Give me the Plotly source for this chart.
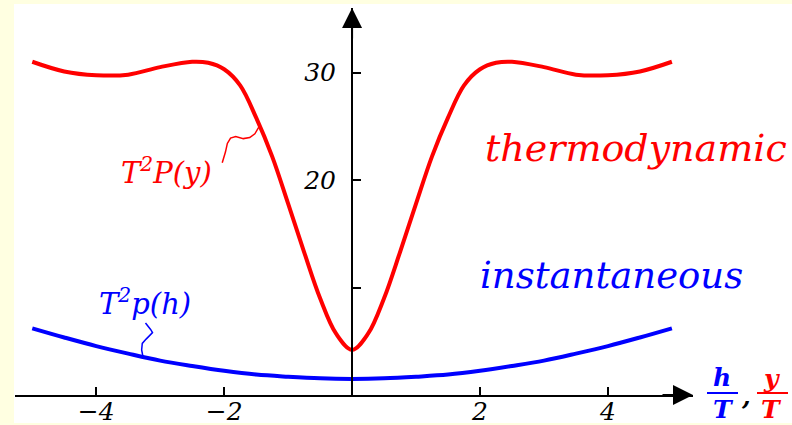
import plotly.graph_objects as go

W, H = 792, 425

# ---------------- data ----------------
red_x = [-5, -4.5, -4, -3.5, -3, -2.5, -2.25, -2, -1.75, -1.5, -1.25, -1, -0.75, -0.5, -0.25,
         0, 0.25, 0.5, 0.75, 1, 1.25, 1.5, 1.75, 2, 2.25, 2.5, 3, 3.5, 4, 4.5, 5]
red_y = [31.0, 30.1, 29.75, 29.8, 30.5, 31.0, 30.9, 30.3, 28.8, 25.8, 22.2, 17.8, 13.3, 9.0, 5.7,
         4.2, 5.7, 9.0, 13.3, 17.8, 22.2, 25.8, 28.8, 30.3, 30.9, 31.0, 30.5, 29.8, 29.75, 30.1, 31.0]

blue_x = [-5, -4.5, -4, -3.5, -3, -2.5, -2, -1.5, -1, -0.5, 0,
          0.5, 1, 1.5, 2, 2.5, 3, 3.5, 4, 4.5, 5]
blue_y = [6.2, 5.35, 4.55, 3.85, 3.2, 2.7, 2.25, 1.9, 1.7, 1.55, 1.5,
          1.55, 1.7, 1.9, 2.25, 2.7, 3.2, 3.85, 4.55, 5.35, 6.2]

x_tickvals = [-4, -2, 2, 4]
x_ticktext = ["\u22124", "\u22122", "2", "4"]
y_tickvals = [10, 20, 30]
y_ticktext = ["", "20", "30"]

x_range = [-5.27, 5.33]
y_range = [0, 36.0]

RED = "#ff0000"
BLUE = "#0000ff"
CREAM = "#ffffe1"
FONT = "DejaVu Serif"


def px(x):
    return x / W


def py(y):
    return 1 - y / H


fig = go.Figure()
fig.add_trace(go.Scatter(x=red_x, y=red_y, mode="lines", line=dict(color=RED, width=4, shape="spline"),
                         hoverinfo="skip"))
fig.add_trace(go.Scatter(x=blue_x, y=blue_y, mode="lines", line=dict(color=BLUE, width=4, shape="spline"),
                         hoverinfo="skip"))

tickfont = dict(family=FONT, size=25, color="black", style="italic")

fig.update_layout(
    width=W, height=H,
    margin=dict(l=0, r=0, t=0, b=0, autoexpand=False),
    paper_bgcolor=CREAM,
    plot_bgcolor="rgba(0,0,0,0)",
    showlegend=False,
    xaxis=dict(range=x_range, domain=[px(15), px(693)], showgrid=False, zeroline=False,
               showline=True, linecolor="black", linewidth=2,
               ticks="inside", ticklen=8, tickwidth=1.5, tickcolor="black",
               tickvals=x_tickvals, ticktext=x_ticktext, tickfont=tickfont,
               ticklabelstandoff=-7,
               anchor="y", fixedrange=True, automargin=False),
    yaxis=dict(range=y_range, domain=[py(395), py(8)], showgrid=False, zeroline=False,
               showline=True, linecolor="black", linewidth=2,
               ticks="inside", ticklen=8, tickwidth=1.5, tickcolor="black",
               tickvals=y_tickvals, ticktext=y_ticktext, tickfont=tickfont,
               anchor="free", position=px(352), ticklabelstandoff=10, fixedrange=True,
               automargin=False),
)

# white panel inside cream border
fig.add_shape(type="rect", xref="paper", yref="paper", x0=px(14), x1=1.0, y0=py(423), y1=py(4),
              fillcolor="white", line=dict(width=0), layer="below")

# axis arrowheads
fig.add_annotation(x=0, y=y_range[1], xref="x", yref="y", ax=0, ay=32, text="",
                   showarrow=True, arrowhead=2, arrowsize=2, arrowwidth=2, arrowcolor="black")
fig.add_annotation(x=x_range[1], y=0, xref="x", yref="y", ax=-32, ay=0, text="",
                   showarrow=True, arrowhead=2, arrowsize=2, arrowwidth=2, arrowcolor="black")

# connectors from labels to curves
red_conn_x = [-2.03, -1.98, -1.95, -1.90, -1.82, -1.70, -1.60, -1.52, -1.44]
red_conn_y = [21.6, 22.6, 23.4, 23.9, 24.05, 23.85, 23.95, 24.3, 25.1]
blue_conn_x = [-3.23, -3.15, -3.12, -3.22, -3.28, -3.29, -3.27]
blue_conn_y = [6.7, 6.1, 5.8, 5.2, 4.8, 4.2, 3.6]


def path(xs, ys):
    return "M " + " L ".join(f"{a},{b}" for a, b in zip(xs, ys))


fig.add_shape(type="path", xref="x", yref="y", path=path(red_conn_x, red_conn_y),
              line=dict(color=RED, width=1.5))
fig.add_shape(type="path", xref="x", yref="y", path=path(blue_conn_x, blue_conn_y),
              line=dict(color=BLUE, width=1.5))


def label(text, x, y, color, size, bold=False):
    fig.add_annotation(x=px(x), y=py(y), xref="paper", yref="paper", text=text, showarrow=False,
                       xanchor="center", yanchor="middle",
                       font=dict(family=FONT, size=size, color=color, style="italic",
                                 weight="bold" if bold else "normal"))


label("thermodynamic", 636, 148, RED, 38)
label("instantaneous", 611, 275, BLUE, 37)
label("T<sup>2</sup>P(y)", 166, 171, RED, 29)
label("T<sup>2</sup>p(h)", 145, 302, BLUE, 29)

# axis label fractions h/T , y/T
label("h", 722, 377, BLUE, 25, bold=True)
label("T", 723, 409, BLUE, 25, bold=True)
label(",", 746, 396, "black", 25, bold=True)
label("y", 771, 378, RED, 25, bold=True)
label("T", 771, 409, RED, 25, bold=True)
fig.add_shape(type="line", xref="paper", yref="paper", x0=px(707), x1=px(738), y0=py(393), y1=py(393),
              line=dict(color=BLUE, width=2))
fig.add_shape(type="line", xref="paper", yref="paper", x0=px(757), x1=px(788), y0=py(393), y1=py(393),
              line=dict(color=RED, width=2))

fig.write_html("out.html", config={"displayModeBar": False},
               post_script="document.body.style.margin='0';document.body.style.overflow='hidden';")
